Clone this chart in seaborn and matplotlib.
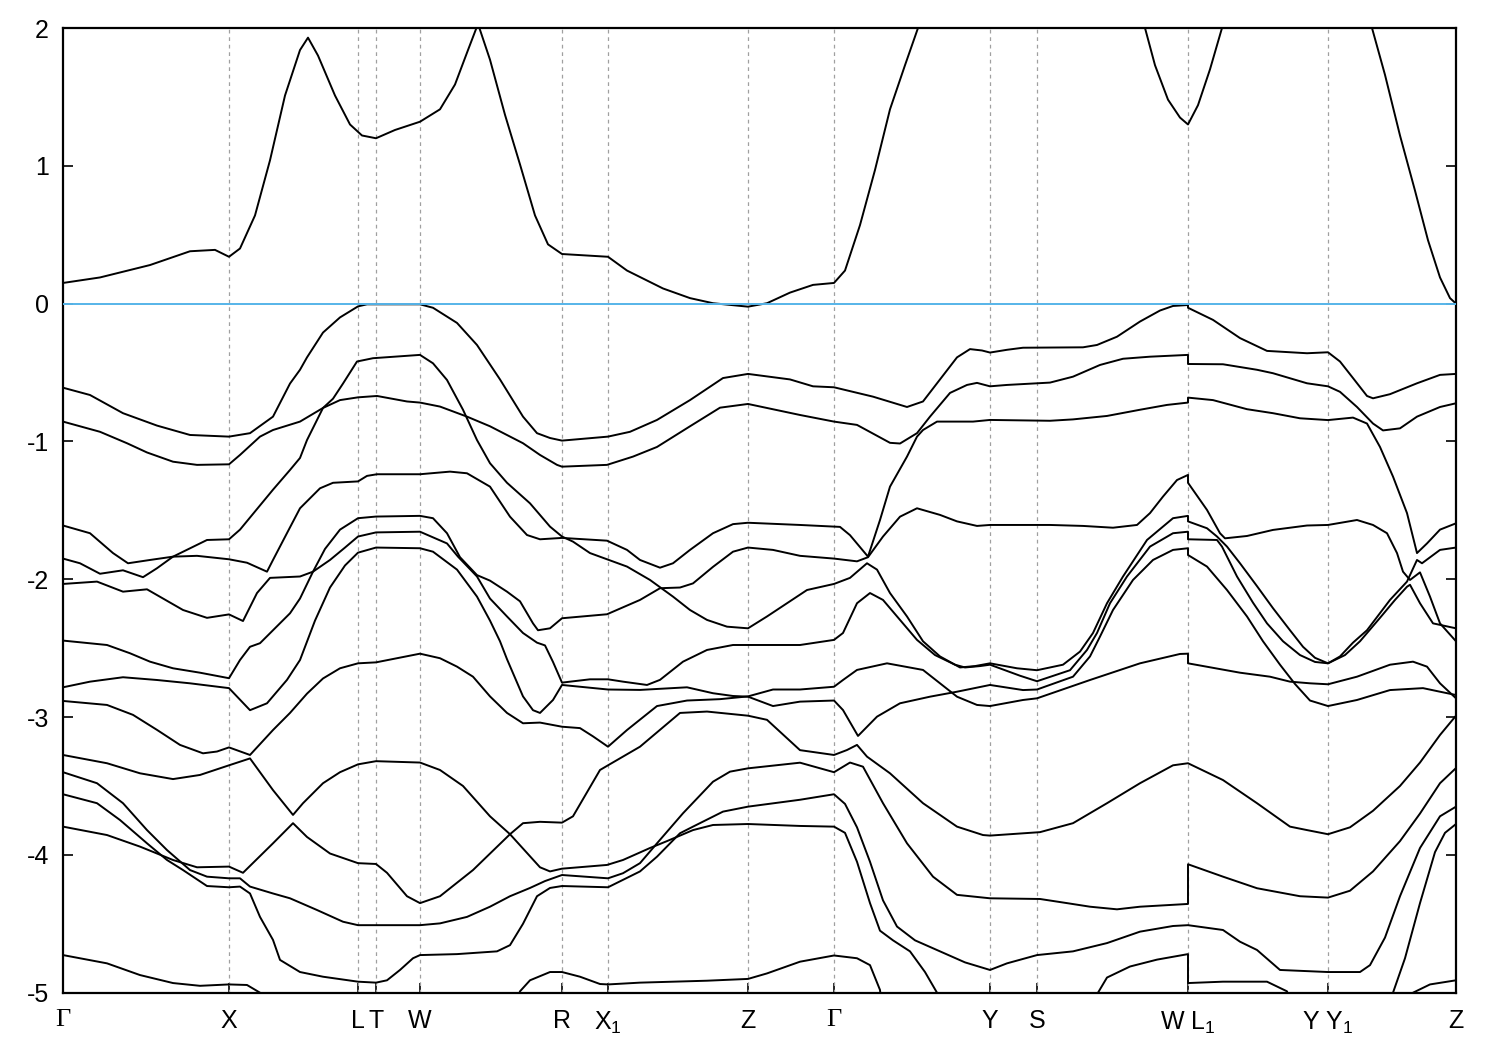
import pandas as pd
import matplotlib
matplotlib.use("Agg")
import matplotlib.pyplot as plt
import seaborn as sns

# high-symmetry points along the k-path (path length, arbitrary units)
kpath_pos = [0.0, 1.66, 2.95, 3.13, 3.57, 4.99, 5.45, 6.85, 7.71, 9.27, 9.74, 11.25, 12.65, 13.93]
kpath_lbl = ["Γ", "X", "L", "T", "W", "R", "X$_1$", "Z", "Γ", "Y", "S", "W L$_1$", "Y Y$_1$", "Z"]
e_ticks = [2, 1, 0, -1, -2, -3, -4, -5]

# bands as (k, E - E_F) pairs
cb = [(0.00, 0.15), (0.37, 0.19), (0.87, 0.28), (1.27, 0.38), (1.52, 0.39), (1.66, 0.34), (1.77, 0.40),
      (1.92, 0.64), (2.07, 1.04), (2.22, 1.51), (2.37, 1.84), (2.45, 1.93), (2.55, 1.80), (2.72, 1.51),
      (2.87, 1.30), (2.99, 1.22), (3.13, 1.20), (3.32, 1.26), (3.57, 1.32), (3.77, 1.41), (3.92, 1.59),
      (4.05, 1.84), (4.15, 2.03), (4.27, 1.77), (4.42, 1.37), (4.57, 1.01), (4.72, 0.64), (4.85, 0.43),
      (4.99, 0.36), (5.45, 0.34), (5.64, 0.24), (6.00, 0.11), (6.27, 0.04), (6.50, 0.003), (6.85, -0.022),
      (7.04, 0.003), (7.27, 0.08), (7.50, 0.136), (7.71, 0.15), (7.82, 0.24), (7.97, 0.57), (8.12, 0.97),
      (8.27, 1.41), (8.42, 1.73), (8.55, 2.0), (8.67, 2.3), (10.67, 2.3), (10.82, 2.0), (10.92, 1.73),
      (11.05, 1.48), (11.17, 1.35), (11.25, 1.30), (11.35, 1.44), (11.47, 1.70), (11.59, 2.0), (11.72, 2.3),
      (12.97, 2.3), (13.09, 2.0), (13.22, 1.66), (13.37, 1.22), (13.52, 0.82), (13.65, 0.46), (13.77, 0.19),
      (13.87, 0.04), (13.93, 0.0)]

vb_a = [(0.00, -0.61), (0.27, -0.663), (0.60, -0.795), (0.94, -0.885), (1.27, -0.953), (1.66, -0.965),
        (1.87, -0.94), (2.10, -0.82), (2.27, -0.58), (2.37, -0.48), (2.44, -0.39), (2.60, -0.21), (2.77, -0.10),
        (2.95, -0.02), (3.04, -0.005), (3.57, -0.005), (3.70, -0.03), (3.94, -0.14), (4.14, -0.30), (4.37, -0.55),
        (4.60, -0.82), (4.74, -0.94), (4.87, -0.975), (4.99, -0.994), (5.45, -0.965), (5.67, -0.93), (5.94, -0.844),
        (6.27, -0.70), (6.60, -0.54), (6.85, -0.51), (7.27, -0.55), (7.50, -0.60), (7.71, -0.607), (8.10, -0.675),
        (8.44, -0.75), (8.60, -0.71), (8.77, -0.55), (8.94, -0.39), (9.07, -0.33), (9.19, -0.34), (9.27, -0.355),
        (9.44, -0.335), (9.60, -0.32), (10.20, -0.317), (10.34, -0.30), (10.54, -0.24), (10.77, -0.13),
        (10.97, -0.05), (11.10, -0.017), (11.25, -0.01), (11.25, -0.03), (11.50, -0.118), (11.77, -0.25),
        (12.04, -0.343), (12.44, -0.36), (12.65, -0.353), (12.77, -0.42), (12.90, -0.54), (13.04, -0.67),
        (13.10, -0.687), (13.27, -0.657), (13.54, -0.578), (13.77, -0.517), (13.93, -0.51)]

vb_b = [(0.00, -0.856), (0.37, -0.93), (0.64, -1.013), (0.84, -1.08), (1.10, -1.147), (1.34, -1.17), (1.66, -1.166),
        (1.77, -1.098), (1.97, -0.965), (2.10, -0.917), (2.37, -0.856), (2.60, -0.757), (2.77, -0.70), (2.95, -0.68),
        (3.14, -0.67), (3.44, -0.71), (3.57, -0.718), (3.77, -0.747), (4.04, -0.82), (4.27, -0.89), (4.60, -1.013),
        (4.77, -1.098), (4.94, -1.17), (4.99, -1.183), (5.44, -1.17), (5.70, -1.11), (5.94, -1.04), (6.27, -0.89),
        (6.57, -0.755), (6.85, -0.728), (7.37, -0.808), (7.71, -0.856), (7.94, -0.88), (8.27, -1.01), (8.37, -1.015),
        (8.54, -0.94), (8.67, -0.82), (8.87, -0.648), (9.04, -0.59), (9.14, -0.575), (9.27, -0.60), (9.44, -0.59),
        (9.87, -0.573), (10.10, -0.53), (10.37, -0.445), (10.60, -0.40), (10.87, -0.385), (11.25, -0.372),
        (11.25, -0.438), (11.60, -0.44), (11.94, -0.48), (12.10, -0.505), (12.44, -0.578), (12.65, -0.60),
        (12.77, -0.64), (12.94, -0.75), (13.10, -0.87), (13.20, -0.92), (13.37, -0.905), (13.54, -0.82),
        (13.77, -0.75), (13.93, -0.723)]

vb_c = [(0.00, -1.85), (0.17, -1.884), (0.37, -1.96), (0.60, -1.935), (0.80, -1.985), (0.94, -1.92), (1.10, -1.836),
        (1.44, -1.715), (1.66, -1.71), (1.77, -1.64), (2.10, -1.35), (2.27, -1.207), (2.37, -1.12), (2.44, -0.99),
        (2.60, -0.757), (2.70, -0.69), (2.80, -0.58), (2.94, -0.42), (3.10, -0.396), (3.57, -0.372), (3.70, -0.433),
        (3.84, -0.554), (4.00, -0.77), (4.14, -0.99), (4.27, -1.158), (4.44, -1.30), (4.67, -1.449), (4.87, -1.618),
        (4.99, -1.69), (5.10, -1.727), (5.27, -1.81), (5.44, -1.855), (5.64, -1.908), (5.87, -2.005), (6.10, -2.126),
        (6.27, -2.223), (6.44, -2.295), (6.64, -2.344), (6.85, -2.356), (7.04, -2.27), (7.24, -2.174),
        (7.44, -2.078), (7.71, -2.034), (7.87, -1.99), (8.04, -1.884), (8.14, -1.93), (8.27, -2.10), (8.44, -2.27),
        (8.60, -2.45), (8.77, -2.56), (8.97, -2.64), (9.12, -2.63), (9.27, -2.61), (9.54, -2.646), (9.74, -2.66),
        (10.00, -2.62), (10.17, -2.525), (10.30, -2.39), (10.44, -2.174), (10.60, -1.98), (10.84, -1.715),
        (11.10, -1.557), (11.25, -1.54), (11.25, -1.58), (11.44, -1.63), (11.54, -1.69), (11.64, -1.763),
        (11.77, -1.884), (11.94, -2.05), (12.10, -2.21), (12.27, -2.37), (12.40, -2.49), (12.52, -2.57),
        (12.65, -2.61), (12.77, -2.56), (12.90, -2.46), (13.04, -2.37), (13.27, -2.15), (13.44, -2.017),
        (13.54, -1.86), (13.59, -1.884), (13.77, -1.787), (13.93, -1.77)]

vb_d = [(0.00, -1.61), (0.27, -1.666), (0.50, -1.81), (0.65, -1.884), (0.87, -1.86), (1.10, -1.836), (1.34, -1.83),
        (1.66, -1.855), (1.84, -1.88), (2.04, -1.945), (2.10, -1.86), (2.24, -1.665), (2.37, -1.485), (2.57, -1.34),
        (2.70, -1.30), (2.95, -1.29), (3.04, -1.25), (3.14, -1.238), (3.57, -1.238), (3.87, -1.219), (4.04, -1.231),
        (4.27, -1.328), (4.47, -1.546), (4.64, -1.679), (4.77, -1.71), (4.99, -1.70), (5.44, -1.72), (5.64, -1.787),
        (5.77, -1.86), (5.97, -1.916), (6.10, -1.884), (6.27, -1.787), (6.50, -1.666), (6.70, -1.60), (6.85, -1.59),
        (7.37, -1.606), (7.77, -1.62), (7.87, -1.68), (8.05, -1.836), (8.17, -1.57), (8.27, -1.328), (8.44, -1.11),
        (8.54, -0.965), (8.60, -0.917), (8.74, -0.856), (9.10, -0.856), (9.27, -0.844), (9.87, -0.85),
        (10.10, -0.84), (10.44, -0.815), (10.77, -0.77), (11.04, -0.735), (11.25, -0.718), (11.25, -0.682),
        (11.50, -0.70), (11.84, -0.766), (12.10, -0.795), (12.37, -0.832), (12.65, -0.845), (12.90, -0.827),
        (13.04, -0.87), (13.17, -1.04), (13.30, -1.255), (13.44, -1.52), (13.54, -1.81), (13.64, -1.74),
        (13.77, -1.64), (13.93, -1.594)]

vb_g = [(0.00, -2.445), (0.44, -2.477), (0.67, -2.537), (0.87, -2.598), (1.10, -2.646), (1.37, -2.678),
        (1.66, -2.718), (1.77, -2.586), (1.87, -2.49), (1.97, -2.464), (2.10, -2.37), (2.27, -2.247), (2.37, -2.14),
        (2.50, -1.945), (2.62, -1.78), (2.77, -1.64), (2.95, -1.557), (3.13, -1.545), (3.57, -1.54), (3.70, -1.557),
        (3.84, -1.666), (3.97, -1.84), (4.14, -1.97), (4.27, -2.01), (4.44, -2.09), (4.57, -2.16), (4.70, -2.32),
        (4.75, -2.37), (4.87, -2.356), (4.99, -2.283), (5.44, -2.254), (5.77, -2.15), (5.97, -2.065), (6.17, -2.06),
        (6.30, -2.03), (6.50, -1.91), (6.70, -1.80), (6.85, -1.77), (7.10, -1.787), (7.37, -1.83), (7.71, -1.85),
        (7.94, -1.87), (8.05, -1.84), (8.20, -1.69), (8.37, -1.546), (8.54, -1.485), (8.77, -1.533), (8.94, -1.58),
        (9.14, -1.613), (9.27, -1.606), (9.87, -1.606), (10.20, -1.613), (10.50, -1.626), (10.74, -1.606),
        (10.87, -1.52), (11.00, -1.40), (11.14, -1.28), (11.25, -1.243), (11.25, -1.30), (11.44, -1.497),
        (11.57, -1.666), (11.62, -1.703), (11.84, -1.686), (12.10, -1.642), (12.44, -1.61), (12.65, -1.606),
        (12.94, -1.57), (13.10, -1.606), (13.24, -1.666), (13.34, -1.81), (13.40, -1.945), (13.47, -2.005),
        (13.57, -1.95), (13.67, -2.126), (13.77, -2.32), (13.93, -2.45)]

vb_f = [(0.00, -2.034), (0.34, -2.017), (0.60, -2.09), (0.84, -2.073), (1.20, -2.223), (1.44, -2.28), (1.66, -2.255),
        (1.80, -2.303), (1.94, -2.10), (2.07, -1.99), (2.37, -1.98), (2.50, -1.945), (2.67, -1.86), (2.82, -1.77),
        (2.95, -1.69), (3.13, -1.66), (3.57, -1.655), (3.84, -1.74), (3.95, -1.836), (4.14, -1.98), (4.27, -2.14),
        (4.44, -2.27), (4.60, -2.39), (4.74, -2.46), (4.82, -2.48), (4.90, -2.60), (4.99, -2.75), (5.27, -2.726),
        (5.45, -2.726), (5.60, -2.743), (5.84, -2.767), (5.97, -2.73), (6.20, -2.598), (6.44, -2.513),
        (6.70, -2.477), (6.85, -2.477), (7.37, -2.477), (7.71, -2.44), (7.80, -2.39), (7.94, -2.174), (8.07, -2.10),
        (8.20, -2.15), (8.37, -2.295), (8.54, -2.44), (8.72, -2.55), (8.92, -2.62), (9.02, -2.64), (9.17, -2.63),
        (9.27, -2.62), (9.57, -2.70), (9.74, -2.74), (10.07, -2.66), (10.24, -2.513), (10.34, -2.39),
        (10.47, -2.174), (10.64, -1.98), (10.87, -1.763), (11.10, -1.666), (11.25, -1.655), (11.25, -1.71),
        (11.54, -1.715), (11.59, -1.763), (11.74, -1.98), (11.90, -2.17), (12.04, -2.32), (12.20, -2.45),
        (12.37, -2.55), (12.52, -2.60), (12.65, -2.61), (12.82, -2.55), (12.97, -2.45), (13.17, -2.28),
        (13.32, -2.15), (13.44, -2.054), (13.47, -2.04), (13.57, -2.174), (13.70, -2.32), (13.93, -2.356)]

vb_h = [(0.00, -2.784), (0.27, -2.743), (0.60, -2.711), (0.94, -2.731), (1.27, -2.755), (1.66, -2.79), (1.87, -2.95),
        (2.04, -2.90), (2.24, -2.73), (2.37, -2.586), (2.52, -2.30), (2.67, -2.06), (2.82, -1.90), (2.95, -1.807),
        (3.13, -1.77), (3.57, -1.775), (3.70, -1.80), (3.94, -1.93), (4.14, -2.126), (4.27, -2.30), (4.37, -2.45),
        (4.44, -2.58), (4.60, -2.85), (4.70, -2.95), (4.77, -2.97), (4.90, -2.876), (4.99, -2.767), (5.45, -2.80),
        (5.77, -2.803), (6.24, -2.784), (6.50, -2.827), (6.70, -2.847), (6.85, -2.852), (7.10, -2.92),
        (7.37, -2.888), (7.71, -2.88), (7.80, -2.949), (7.95, -3.137), (8.14, -2.997), (8.37, -2.90),
        (8.67, -2.852), (8.94, -2.816), (9.27, -2.767), (9.60, -2.804), (9.74, -2.80), (10.10, -2.707),
        (10.27, -2.56), (10.37, -2.416), (10.50, -2.223), (10.70, -2.005), (10.90, -1.86), (11.10, -1.787),
        (11.25, -1.775), (11.25, -1.824), (11.44, -1.908), (11.64, -2.078), (11.84, -2.27), (12.00, -2.45),
        (12.17, -2.62), (12.32, -2.76), (12.47, -2.88), (12.65, -2.92), (12.94, -2.876), (13.27, -2.804),
        (13.60, -2.79), (13.77, -2.816), (13.93, -2.84)]

vb_8 = [(0.00, -2.883), (0.44, -2.912), (0.70, -2.984), (0.94, -3.093), (1.17, -3.202), (1.40, -3.263),
        (1.54, -3.25), (1.66, -3.22), (1.87, -3.275), (2.10, -3.094), (2.27, -2.97), (2.44, -2.83), (2.60, -2.72),
        (2.77, -2.646), (2.95, -2.61), (3.13, -2.603), (3.57, -2.54), (3.77, -2.573), (3.94, -2.634), (4.10, -2.707),
        (4.27, -2.85), (4.44, -2.97), (4.60, -3.045), (4.77, -3.04), (4.99, -3.07), (5.17, -3.08), (5.30, -3.14),
        (5.45, -3.215), (5.64, -3.094), (5.94, -2.92), (6.24, -2.88), (6.57, -2.87), (6.85, -2.85), (7.10, -2.80),
        (7.37, -2.80), (7.71, -2.78), (7.80, -2.731), (7.94, -2.658), (8.24, -2.61), (8.60, -2.658), (8.77, -2.755),
        (8.94, -2.852), (9.14, -2.912), (9.27, -2.92), (9.60, -2.876), (9.74, -2.864), (10.27, -2.731),
        (10.77, -2.61), (11.17, -2.542), (11.25, -2.54), (11.25, -2.61), (11.77, -2.678), (12.07, -2.707),
        (12.27, -2.743), (12.47, -2.755), (12.65, -2.762), (12.94, -2.707), (13.27, -2.62), (13.50, -2.598),
        (13.64, -2.634), (13.77, -2.755), (13.93, -2.864)]

vb_9 = [(0.00, -3.275), (0.44, -3.335), (0.77, -3.408), (1.10, -3.45), (1.37, -3.42), (1.66, -3.35), (1.87, -3.30),
        (2.10, -3.53), (2.30, -3.71), (2.40, -3.625), (2.60, -3.48), (2.77, -3.40), (2.95, -3.343), (3.13, -3.32),
        (3.57, -3.33), (3.77, -3.384), (4.00, -3.50), (4.27, -3.72), (4.47, -3.85), (4.62, -3.97), (4.77, -4.09),
        (4.87, -4.12), (4.99, -4.10), (5.44, -4.073), (5.60, -4.037), (5.87, -3.95), (6.04, -3.90), (6.30, -3.82),
        (6.50, -3.783), (6.85, -3.776), (7.37, -3.79), (7.71, -3.795), (7.82, -3.84), (7.94, -4.05), (8.07, -4.35),
        (8.17, -4.55), (8.30, -4.62), (8.47, -4.70), (8.62, -4.85), (8.74, -5.0), (8.87, -5.3), (10.17, -5.3),
        (10.35, -5.0), (10.44, -4.89), (10.67, -4.81), (10.94, -4.76), (11.25, -4.72), (11.25, -4.93),
        (11.60, -4.92), (12.04, -4.92), (12.24, -4.99), (12.37, -5.3), (13.17, -5.3), (13.30, -5.0),
        (13.42, -4.75), (13.57, -4.35), (13.72, -3.98), (13.82, -3.84), (13.93, -3.776)]

vb_la = [(0.00, -3.40), (0.34, -3.48), (0.60, -3.625), (0.84, -3.82), (1.04, -3.965), (1.27, -4.11), (1.44, -4.158),
         (1.66, -4.17), (1.77, -4.17), (1.87, -4.23), (2.10, -4.28), (2.27, -4.315), (2.54, -4.40), (2.80, -4.485),
         (2.95, -4.51), (3.57, -4.51), (3.77, -4.497), (4.04, -4.45), (4.27, -4.376), (4.47, -4.30), (4.67, -4.24),
         (4.82, -4.19), (4.99, -4.146), (5.45, -4.17), (5.60, -4.133), (5.77, -4.06), (5.94, -3.916), (6.20, -3.698),
         (6.50, -3.469), (6.67, -3.396), (6.85, -3.372), (7.37, -3.331), (7.71, -3.40), (7.87, -3.33), (8.00, -3.36),
         (8.20, -3.625), (8.44, -3.916), (8.70, -4.158), (8.94, -4.29), (9.27, -4.315), (9.77, -4.32),
         (10.04, -4.35), (10.27, -4.376), (10.54, -4.395), (10.77, -4.376), (11.25, -4.356), (11.25, -4.068),
         (11.60, -4.158), (11.94, -4.242), (12.37, -4.30), (12.65, -4.31), (12.87, -4.26), (13.10, -4.12),
         (13.37, -3.90), (13.57, -3.70), (13.77, -3.48), (13.93, -3.37)]

vb_lb = [(0.00, -3.56), (0.34, -3.625), (0.57, -3.747), (0.84, -3.916), (1.04, -4.037), (1.20, -4.11), (1.44, -4.226),
         (1.66, -4.235), (1.77, -4.23), (1.87, -4.28), (1.97, -4.45), (2.10, -4.617), (2.17, -4.762), (2.37, -4.85),
         (2.60, -4.884), (2.95, -4.92), (3.13, -4.927), (3.24, -4.91), (3.37, -4.835), (3.50, -4.75), (3.57, -4.727),
         (3.94, -4.72), (4.34, -4.70), (4.47, -4.655), (4.60, -4.50), (4.74, -4.30), (4.87, -4.24), (4.99, -4.226),
         (5.45, -4.235), (5.77, -4.12), (5.94, -4.013), (6.17, -3.843), (6.30, -3.795), (6.60, -3.686),
         (6.85, -3.65), (7.37, -3.60), (7.71, -3.56), (7.82, -3.63), (7.94, -3.80), (8.07, -4.05), (8.20, -4.33),
         (8.34, -4.52), (8.52, -4.62), (8.77, -4.70), (9.02, -4.78), (9.27, -4.835), (9.44, -4.787), (9.74, -4.727),
         (10.10, -4.70), (10.44, -4.64), (10.77, -4.557), (11.10, -4.516), (11.25, -4.51), (11.60, -4.545),
         (11.77, -4.63), (11.94, -4.69), (12.17, -4.835), (12.65, -4.85), (12.97, -4.85), (13.07, -4.80),
         (13.22, -4.60), (13.37, -4.30), (13.57, -3.95), (13.77, -3.72), (13.93, -3.65)]

vb_lc = [(0.00, -3.795), (0.44, -3.856), (0.77, -3.94), (1.10, -4.037), (1.34, -4.09), (1.66, -4.085), (1.80, -4.13),
         (2.10, -3.916), (2.30, -3.77), (2.44, -3.87), (2.67, -3.99), (2.95, -4.06), (3.13, -4.066), (3.24, -4.13),
         (3.44, -4.30), (3.57, -4.35), (3.77, -4.30), (4.10, -4.11), (4.47, -3.85), (4.60, -3.77), (4.77, -3.76),
         (4.99, -3.766), (5.10, -3.72), (5.37, -3.384), (5.45, -3.35), (5.77, -3.215), (6.17, -2.97), (6.44, -2.96),
         (6.85, -2.99), (7.04, -3.02), (7.37, -3.24), (7.71, -3.275), (7.84, -3.239), (7.94, -3.202), (8.04, -3.287),
         (8.27, -3.408), (8.60, -3.625), (8.94, -3.795), (9.20, -3.856), (9.27, -3.86), (9.77, -3.835),
         (10.10, -3.77), (10.44, -3.625), (10.77, -3.48), (11.10, -3.35), (11.25, -3.335), (11.60, -3.457),
         (11.94, -3.625), (12.27, -3.795), (12.44, -3.82), (12.65, -3.85), (12.87, -3.80), (13.10, -3.68),
         (13.37, -3.50), (13.57, -3.33), (13.77, -3.13), (13.93, -2.99)]

vb_13 = [(0.00, -4.727), (0.44, -4.787), (0.77, -4.872), (1.10, -4.93), (1.37, -4.95), (1.66, -4.94), (1.84, -4.944),
         (1.97, -5.0), (2.07, -5.3), (4.42, -5.3), (4.57, -4.99), (4.67, -4.91), (4.87, -4.85), (4.99, -4.85),
         (5.17, -4.884), (5.37, -4.937), (5.45, -4.94), (5.77, -4.927), (6.44, -4.913), (6.85, -4.90), (7.04, -4.86),
         (7.37, -4.775), (7.71, -4.73), (7.94, -4.75), (8.07, -4.80), (8.17, -4.98), (8.22, -5.3), (13.32, -5.3),
         (13.50, -5.0), (13.67, -4.94), (13.93, -4.91)]

bands = {"cb": cb, "a": vb_a, "b": vb_b, "c": vb_c, "d": vb_d, "g": vb_g, "f": vb_f, "h": vb_h,
         "v8": vb_8, "v9": vb_9, "la": vb_la, "lb": vb_lb, "lc": vb_lc, "v13": vb_13}

rows = []
for name, pts in bands.items():
    for i, (k, e) in enumerate(pts):
        rows.append({"band": name, "order": i, "k": k, "E": e})
df = pd.DataFrame(rows)

sns.set_theme(style="white")
plt.rcParams["font.family"] = ["Liberation Sans", "DejaVu Sans"]
plt.rcParams["mathtext.fontset"] = "custom"
plt.rcParams["mathtext.rm"] = "Liberation Sans"
plt.rcParams["mathtext.it"] = "Liberation Sans:italic"
plt.rcParams["axes.unicode_minus"] = False

fig = plt.figure(figsize=(15, 10.5), dpi=100)
ax = fig.add_axes([63 / 1500, 1 - 992.7 / 1050, 1393 / 1500, 964.7 / 1050])

# dashed guides at the inner high-symmetry points
for kv in kpath_pos[1:-1]:
    ax.axvline(kv, color="#a0a0a0", lw=0.9, ls=(0, (3, 3)), zorder=1)

sns.lineplot(data=df, x="k", y="E", units="band", estimator=None, sort=False,
             color="black", lw=1.4, legend=False, ax=ax, zorder=2)

ax.axhline(0, color="#56b4e9", lw=1.4, zorder=3)

ax.set_xlim(kpath_pos[0], kpath_pos[-1])
ax.set_ylim(-5, 2)
ax.set_xticks(kpath_pos)
ax.set_xticklabels(kpath_lbl)
ax.set_yticks(e_ticks)
ax.set_yticklabels([str(t) for t in e_ticks])
ax.set_xlabel("")
ax.set_ylabel("")

ax.tick_params(axis="both", direction="in", length=7, width=1.2, colors="black", labelsize=18)
ax.tick_params(axis="x", pad=12, top=False, bottom=True)
ax.tick_params(axis="y", pad=10, left=True, right=True)
for lab in ax.get_xticklabels():
    if lab.get_text() == "Γ":
        lab.set_fontfamily("Liberation Serif")
        lab.set_fontsize(19)

for sp in ax.spines.values():
    sp.set_color("black")
    sp.set_linewidth(1.6)

fig.savefig("out.png", dpi=100)
